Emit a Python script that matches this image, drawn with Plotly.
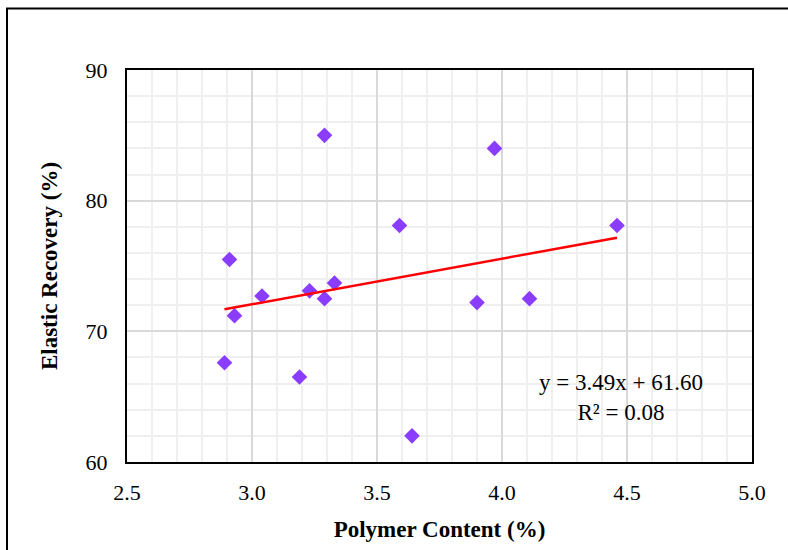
import plotly.graph_objects as go

polymer = [3.29, 3.97, 3.59, 4.46, 2.91, 3.33, 3.23, 3.04, 3.29, 4.11, 3.90, 2.93, 2.89, 3.19, 3.64]
recovery = [85.0, 84.0, 78.1, 78.1, 75.5, 73.7, 73.1, 72.7, 72.5, 72.5, 72.2, 71.2, 67.6, 66.5, 62.0]
slope, intercept = 3.49, 61.60
x_ticks = [2.5, 3.0, 3.5, 4.0, 4.5, 5.0]
y_ticks = [60, 70, 80, 90]

xmin, xmax = min(polymer), max(polymer)
trend_x = [xmin, xmax]
trend_y = [slope * v + intercept for v in trend_x]

fig = go.Figure()
fig.add_trace(go.Scatter(x=polymer, y=recovery, mode="markers",
                         marker=dict(symbol="diamond", size=12, color="#8B3DFF"),
                         showlegend=False))
fig.add_trace(go.Scatter(x=trend_x, y=trend_y, mode="lines",
                         line=dict(color="#FF0000", width=2.5), showlegend=False))

font = "Liberation Serif"
fig.update_layout(
    width=788, height=550,
    margin=dict(l=127, r=36, t=70, b=84),
    paper_bgcolor="white", plot_bgcolor="white",
    font=dict(family=font, color="black", size=22),
    xaxis=dict(range=[2.5, 5.0], tickvals=x_ticks, ticktext=[f"{v:.1f}" for v in x_ticks],
               showgrid=True, gridcolor="#D9D9D9", gridwidth=1.5,
               minor=dict(dtick=0.1, showgrid=True, gridcolor="#EFEFEF", gridwidth=1.5),
               showline=True, linecolor="black", linewidth=2, mirror=True,
               zeroline=False, ticks="", ticklabelstandoff=10,
               title=dict(text="<b>Polymer Content (%)</b>", font=dict(family=font, size=23), standoff=16),
               tickfont=dict(family=font, size=22)),
    yaxis=dict(range=[60, 90], tickvals=y_ticks,
               showgrid=True, gridcolor="#D9D9D9", gridwidth=1.5,
               minor=dict(dtick=2, showgrid=True, gridcolor="#EFEFEF", gridwidth=1.5),
               showline=True, linecolor="black", linewidth=2, mirror=True,
               zeroline=False, ticks="", ticklabelstandoff=13,
               title=dict(text="<b>Elastic Recovery (%)</b>", font=dict(family=font, size=23), standoff=22),
               tickfont=dict(family=font, size=22)),
    annotations=[dict(x=4.475, y=64.9, xref="x", yref="y",
                      text=f"y = {slope:.2f}x + {intercept:.2f}<br>R² = 0.08",
                      showarrow=False, align="center", font=dict(family=font, size=23))],
    shapes=[dict(type="rect", xref="paper", yref="paper",
                 x0=-0.192, x1=1.2, y0=-0.3, y1=1.1566,
                 line=dict(color="black", width=2), fillcolor="rgba(0,0,0,0)")],
)
fig.write_html("out.html")
